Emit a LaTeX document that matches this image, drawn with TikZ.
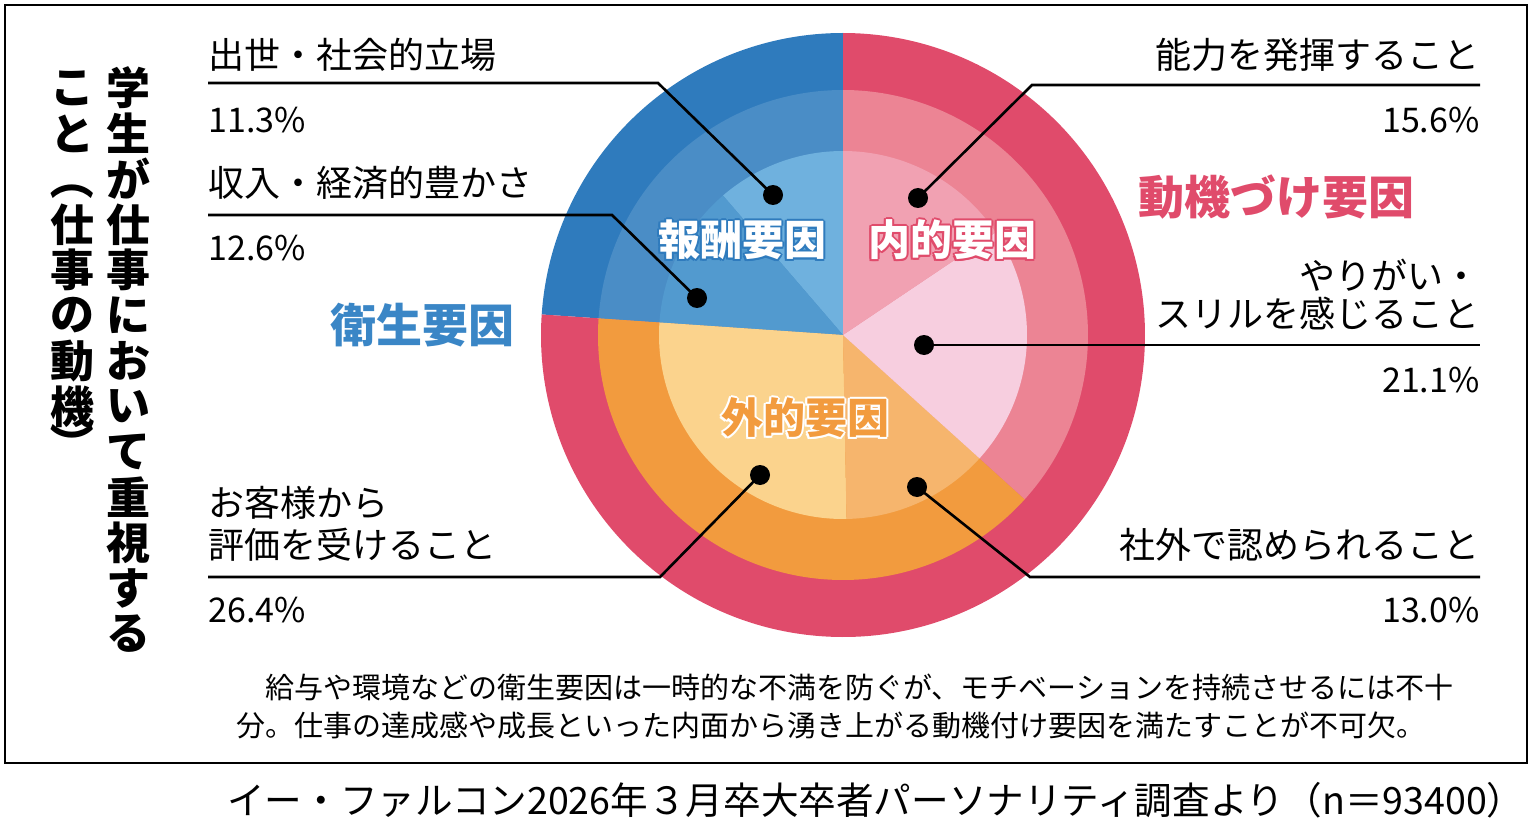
\documentclass[tikz,border=0pt]{standalone}
\usepackage{fontspec}
\setmainfont{Noto Sans CJK JP}
\usetikzlibrary{positioning}
\definecolor{bluedark}{HTML}{2F7BBD}
\definecolor{bluemid}{HTML}{4A8DC6}
\definecolor{blueinA}{HTML}{6FB1DE}
\definecolor{blueinB}{HTML}{529ACF}
\definecolor{reddark}{HTML}{E04B6B}
\definecolor{orangemid}{HTML}{F29B3E}
\definecolor{orangeinA}{HTML}{FBD38D}
\definecolor{orangeinB}{HTML}{F6B56D}
\definecolor{pinkmid}{HTML}{EC8494}
\definecolor{pinkinA}{HTML}{F7CEDF}
\definecolor{pinkinB}{HTML}{F1A1B2}
\definecolor{labelblue}{HTML}{3A86C6}
\newcommand{\piewedge}[4]{\fill[#1] (pc) -- ++(-#2:#4) arc[start angle=-#2, end angle=-#3, radius=#4] -- cycle;}
\newcommand{\halotext}[4]{% position, colour, halo, text
  \foreach \dx/\dy in {2/0,-2/0,0/2,0/-2,1.5/1.5,-1.5/1.5,1.5/-1.5,-1.5/-1.5}
    \node[group, text=#3] at ($(#1)+(\dx,\dy)$) {#4};
  \node[group, text=#2] at (#1) {#4};}
\usetikzlibrary{calc}
\begin{document}
\begin{tikzpicture}[x=0.5pt, y=-0.5pt,
    item/.style={font=\fontsize{18}{20}\selectfont, inner sep=0pt},
    pct/.style={font=\fontsize{17}{20}\selectfont, inner sep=0pt},
    group/.style={font=\fontsize{21}{24}\selectfont\bfseries, inner sep=0pt},
    leader/.style={line width=1.3pt},
    dot/.style={circle, fill=black, minimum size=10pt, inner sep=0pt},
    vchar/.style={font=\fontsize{22}{24}\selectfont\bfseries, inner sep=0pt}]
  \useasboundingbox (0,0) rectangle (1533,829);
  \draw[line width=0.6pt] (5,5) rectangle (1527,763);

  % pie
  \coordinate (pc) at (843,335);
  \piewedge{bluedark}{90}{176.1}{302}
  \piewedge{reddark}{176.1}{450}{302}
  \piewedge{bluemid}{90}{176.1}{245}
  \piewedge{orangemid}{176.1}{317.9}{245}
  \piewedge{pinkmid}{317.9}{450}{245}
  \piewedge{blueinA}{90}{130.7}{184}
  \piewedge{blueinB}{130.7}{176.1}{184}
  \piewedge{orangeinA}{176.1}{271.1}{184}
  \piewedge{orangeinB}{271.1}{317.9}{184}
  \piewedge{pinkinA}{317.9}{393.9}{184}
  \piewedge{pinkinB}{393.9}{450}{184}

  % group labels
  \coordinate (reward) at (742,240);
  \coordinate (inner) at (952,240);
  \coordinate (outer) at (805,418);
  \halotext{reward}{white}{bluedark}{報酬要因}
  \halotext{inner}{white}{reddark}{内的要因}
  \halotext{outer}{orangemid}{white}{外的要因}
  \node[group, text=labelblue, font=\fontsize{23}{26}\selectfont\bfseries] (hygiene) at (422,325) {衛生要因};
  \node[group, text=reddark, font=\fontsize{23}{26}\selectfont\bfseries] (motiv) at (1276,197) {動機づけ要因};

  % dots
  \node[dot] (d1) at (773,195) {};
  \node[dot] (d2) at (697,298) {};
  \node[dot] (d3) at (760,475) {};
  \node[dot] (d4) at (918,198) {};
  \node[dot] (d5) at (924,345) {};
  \node[dot] (d6) at (917,487) {};

  % left labels
  \node[item, anchor=west] (t1) at (208,55) {出世・社会的立場};
  \node[pct, anchor=west] (p1) at (208,120) {11.3\%};
  \draw[leader] (d1.center) -- (658,83) -- (208,83);
  \node[item, anchor=west] (t2) at (208,183) {収入・経済的豊かさ};
  \node[pct, anchor=west] (p2) at (208,248) {12.6\%};
  \draw[leader] (d2.center) -- (612,215) -- (208,215);
  \node[item, anchor=west] (t3a) at (208,503) {お客様から};
  \node[item, anchor=west] (t3b) at (208,545) {評価を受けること};
  \node[pct, anchor=west] (p3) at (208,610) {26.4\%};
  \draw[leader] (d3.center) -- (660,577) -- (208,577);

  % right labels
  \node[item, anchor=east] (t4) at (1480,55) {能力を発揮すること};
  \node[pct, anchor=east] (p4) at (1480,120) {15.6\%};
  \draw[leader] (d4.center) -- (1032,85) -- (1480,85);
  \node[item, anchor=east] (t5a) at (1480,275) {やりがい・};
  \node[item, anchor=east] (t5b) at (1480,313) {スリルを感じること};
  \node[pct, anchor=east] (p5) at (1480,380) {21.1\%};
  \draw[leader] (d5.center) -- (1480,345);
  \node[item, anchor=east] (t6) at (1480,545) {社外で認められること};
  \node[pct, anchor=east] (p6) at (1480,610) {13.0\%};
  \draw[leader] (d6.center) -- (1030,577) -- (1480,577);

  % vertical title
  \foreach \ch [count=\i] in {学,生,が,仕,事,に,お,い,て,重,視,す,る}
    \node[vchar] at (128,{88+45.5*(\i-1)}) {\ch};
  \foreach \ch [count=\i] in {こ,と}
    \node[vchar] at (72,{88+45.5*(\i-1)}) {\ch};
  \node[vchar, rotate=-90] at (72,{88+45.5*2}) {（};
  \foreach \ch [count=\i] in {仕,事,の,動,機}
    \node[vchar] at (72,{88+45.5*(\i+2)}) {\ch};
  \node[vchar, rotate=-90] at (72,{88+45.5*8-8}) {）};

  % note and source
  \node[font=\fontsize{14.5}{19}\selectfont, align=left, inner sep=0pt] (note) at (845,706)
    {\hspace{1em}給与や環境などの衛生要因は一時的な不満を防ぐが、モチベーションを持続させるには不十\\
     分。仕事の達成感や成長といった内面から湧き上がる動機付け要因を満たすことが不可欠。};
  \node[font=\fontsize{18.8}{22}\selectfont, anchor=east, inner sep=0pt] (source) at (1525,800)
    {イー・ファルコン2026年３月卒大卒者パーソナリティ調査より（n＝93400）};
\end{tikzpicture}
\end{document}
